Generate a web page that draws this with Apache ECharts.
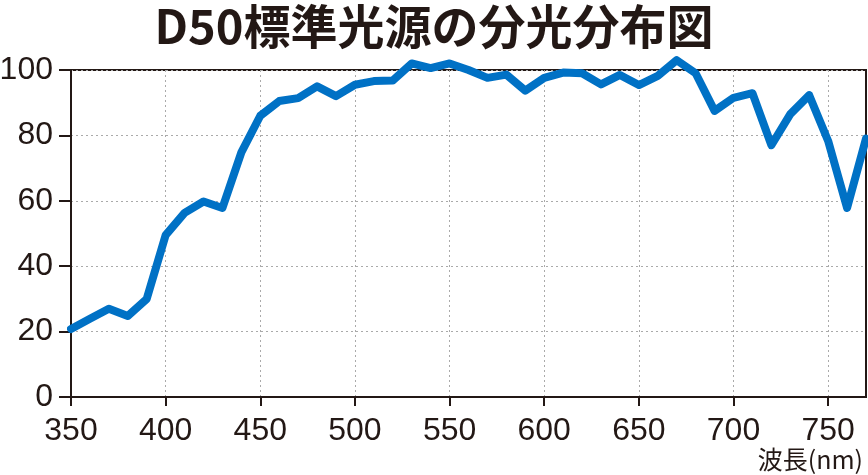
<!DOCTYPE html>
<html>
<head>
<meta charset="utf-8">
<script src="https://cdn.jsdelivr.net/npm/echarts@6/dist/echarts.min.js"></script>
<style>
  html, body { margin: 0; padding: 0; background: #fff; }
  #chart { width: 868px; height: 475px; }
</style>
</head>
<body>
<div id="chart"></div>
<script>
// 波長 (nm) と相対分光分布
var wavelengths = [350, 360, 370, 380, 390, 400, 410, 420, 430, 440,
  450, 460, 470, 480, 490, 500, 510, 520, 530, 540,
  550, 560, 570, 580, 590, 600, 610, 620, 630, 640,
  650, 660, 670, 680, 690, 700, 710, 720, 730, 740,
  750, 760, 770];
var power = [20.8, 23.9, 27.0, 24.8, 30.0, 49.5, 56.3, 59.8, 57.8, 74.8,
  86.0, 90.5, 91.4, 95.0, 92.0, 95.5, 96.6, 96.8, 102.0, 100.6,
  102.0, 100.0, 97.6, 98.6, 93.7, 97.6, 99.2, 99.0, 95.6, 98.5,
  95.4, 98.2, 103.0, 99.0, 87.5, 91.5, 92.9, 77.0, 86.5, 92.3,
  78.3, 57.8, 79.0];
var xTicks = [350, 400, 450, 500, 550, 600, 650, 700, 750];
var yTicks = [0, 20, 40, 60, 80, 100];

var ink = '#231815';
var chart = echarts.init(document.getElementById('chart'));
chart.setOption({
  animation: false,
  title: [
    {
      text: 'D50標準光源の分光分布図',
      left: 'center',
      top: -2,
      textStyle: {
        fontFamily: 'Noto Sans CJK JP',
        fontWeight: 'bold',
        fontSize: 47,
        color: ink
      }
    },
    {
      text: '波長(nm)',
      right: 0,
      bottom: -2,
      textStyle: {
        fontFamily: 'Noto Sans CJK JP',
        fontWeight: 'normal',
        fontSize: 25,
        color: ink
      }
    }
  ],
  grid: {
    left: 71,
    right: 2,
    top: 70,
    bottom: 78,
    show: true,
    borderColor: ink,
    borderWidth: 2,
    outerBoundsMode: 'none'
  },
  xAxis: {
    type: 'value',
    min: 350,
    max: 770,
    interval: 50,
    axisLine: { lineStyle: { color: ink, width: 2 } },
    axisTick: { show: true, length: 9, customValues: xTicks, lineStyle: { color: ink, width: 2 } },
    axisLabel: {
      customValues: xTicks,
      margin: 18,
      fontFamily: 'Liberation Sans',
      fontSize: 32,
      color: ink
    },
    splitLine: { show: true, lineStyle: { color: '#aaa', width: 1, type: [2, 3] } }
  },
  yAxis: {
    type: 'value',
    min: 0,
    max: 100,
    interval: 20,
    axisLine: { show: true, lineStyle: { color: ink, width: 2 } },
    axisTick: { show: true, length: 12, customValues: yTicks, lineStyle: { color: ink, width: 2 } },
    axisLabel: {
      customValues: yTicks,
      margin: 18,
      fontFamily: 'Liberation Sans',
      fontSize: 32,
      color: ink
    },
    splitLine: { show: true, lineStyle: { color: '#aaa', width: 1, type: [2, 3] } }
  },
  series: [
    {
      type: 'line',
      data: wavelengths.map(function (w, i) { return [w, power[i]]; }),
      showSymbol: false,
      clip: false,
      lineStyle: { color: '#0071c5', width: 8, join: 'round', cap: 'round' }
    }
  ]
});
</script>
</body>
</html>
